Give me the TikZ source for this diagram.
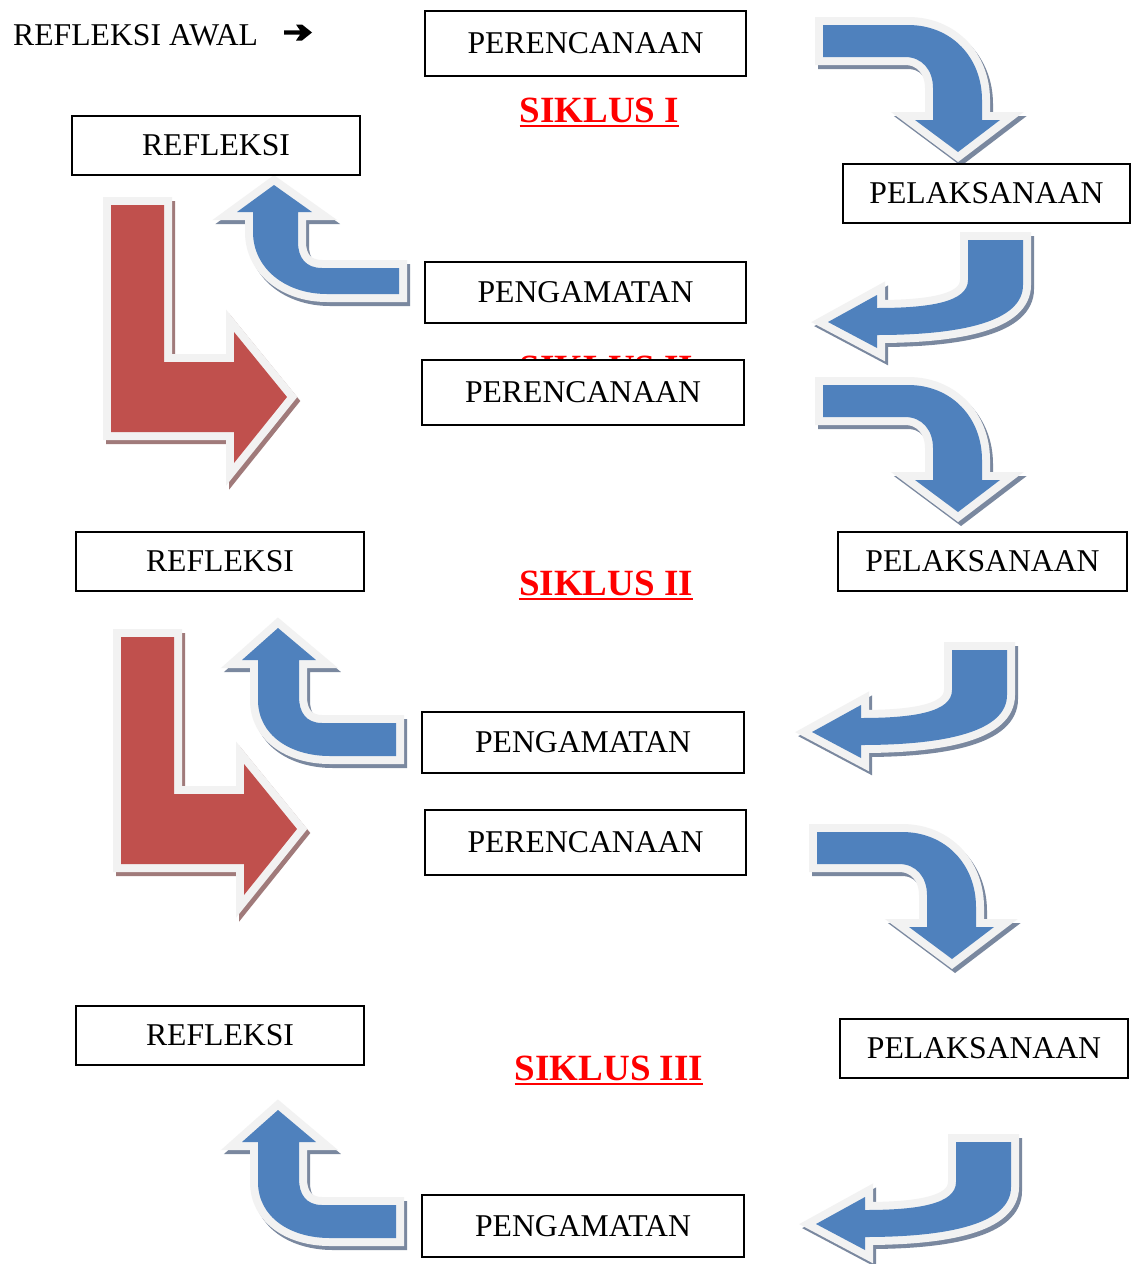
\documentclass[tikz,border=0pt]{standalone}
\usepackage{fontspec}
\setmainfont{Liberation Serif}
\definecolor{ablue}{HTML}{4F81BD}
\definecolor{ared}{HTML}{C0504D}
\definecolor{outl}{HTML}{F2F2F2}
\definecolor{bshadow}{HTML}{7A889F}
\definecolor{rshadow}{HTML}{A07A7A}
\definecolor{sred}{HTML}{FF0000}
\newcommand\fancyarr[3]{%
  \draw[#3, line width=16, line join=miter, shift={(3,4)}] #1;
  \draw[outl, line width=16, line join=miter] #1;
  \fill[#2] #1;}
\def\pathA{(823,25) -- (908,25) .. controls (952,25) and (982,58) .. (982,100) -- (982,120) -- (1000,120) -- (958,152) -- (915,120) -- (933,120) -- (933,88) .. controls (933,70) and (922,57) .. (905,57) -- (823,57) -- cycle}
\def\pathB{(968,240) -- (1023,240) -- (1023,285) .. controls (1023,322) and (960,335) .. (877,335) -- (877,348) -- (828,322) -- (877,295) -- (877,308) .. controls (930,308) and (968,302) .. (968,280) -- cycle}
\def\pathCa{(399,268) -- (322,268) .. controls (306,268) and (298,258) .. (298,242) -- (298,212) -- (312,212) -- (274,185) -- (237,212) -- (253,212) -- (253,232) .. controls (253,268) and (285,294) .. (327,294) -- (399,294) -- cycle}
\def\pathC{(396,723) -- (322,723) .. controls (306,723) and (299,712) .. (299,697) -- (299,660) -- (316,660) -- (278,628) -- (242,660) -- (258,660) -- (258,700) .. controls (258,735) and (290,756) .. (330,756) -- (396,756) -- cycle}
\def\pathL{(111,205) -- (164,205) -- (164,362) -- (234,362) -- (234,332) -- (287,397) -- (234,463) -- (234,432) -- (111,432) -- cycle}
\begin{document}
\begin{tikzpicture}[x=1pt,y=-1pt,
  txt/.style={font=\fontsize{31.7}{36}\selectfont, text=black},
  stagebox/.style={txt, draw=black, line width=1.6, fill=white, inner sep=0pt},
  siklus/.style={font=\fontsize{37}{42}\selectfont\bfseries, text=sred, inner sep=0pt, anchor=base}]
\useasboundingbox[fill=white] (0,0) rectangle (1139,1264);
% ---- big arrows ----
\fancyarr{\pathL}{ared}{rshadow}
\begin{scope}[shift={(10,432)}]\fancyarr{\pathL}{ared}{rshadow}\end{scope}
\fancyarr{\pathA}{ablue}{bshadow}
\begin{scope}[shift={(0,360)}]\fancyarr{\pathA}{ablue}{bshadow}\end{scope}
\begin{scope}[shift={(-6,807)}]\fancyarr{\pathA}{ablue}{bshadow}\end{scope}
\fancyarr{\pathB}{ablue}{bshadow}
\begin{scope}[shift={(-16,410)}]\fancyarr{\pathB}{ablue}{bshadow}\end{scope}
\begin{scope}[shift={(-12,902)}]\fancyarr{\pathB}{ablue}{bshadow}\end{scope}
\fancyarr{\pathCa}{ablue}{bshadow}
\fancyarr{\pathC}{ablue}{bshadow}
\begin{scope}[shift={(0,482)}]\fancyarr{\pathC}{ablue}{bshadow}\end{scope}
% ---- start label ----
\node[txt, anchor=base west, inner sep=0pt] (awal) at (13,45) {REFLEKSI AWAL};
\fill[black] (284,30.3) -- (300,30.3) -- (296,24.5) -- (302,24.5) -- (312,32.5) -- (302,40.5) -- (296,40.5) -- (300,34.7) -- (284,34.7) -- cycle;
% ---- cycle titles ----
\node[siklus] (s1) at (599.5,122) {SIKLUS I};
\draw[sred, line width=2.5] ([yshift=-4]s1.base west) -- ([yshift=-4]s1.base east);
\node[siklus] (s2h) at (606.5,380) {SIKLUS II};
\draw[sred, line width=2.5] ([yshift=-4]s2h.base west) -- ([yshift=-4]s2h.base east);
\node[siklus] (s2) at (606,595) {SIKLUS II};
\draw[sred, line width=2.5] ([yshift=-4]s2.base west) -- ([yshift=-4]s2.base east);
\node[siklus] (s3) at (609,1080) {SIKLUS III};
\draw[sred, line width=2.5] ([yshift=-4]s3.base west) -- ([yshift=-4]s3.base east);
% ---- boxes ----
\node[stagebox, minimum width=321, minimum height=65] (perenc1) at (585.5,43.5) {PERENCANAAN};
\node[stagebox, minimum width=288, minimum height=59] (refl1) at (216,145.5) {REFLEKSI};
\node[stagebox, minimum width=287, minimum height=59] (pelak1) at (986.5,193.5) {PELAKSANAAN};
\node[stagebox, minimum width=321, minimum height=61] (peng1) at (585.5,292.5) {PENGAMATAN};
\node[stagebox, minimum width=322, minimum height=65] (perenc2) at (583,392.5) {PERENCANAAN};
\node[stagebox, minimum width=288, minimum height=59] (refl2) at (220,561.5) {REFLEKSI};
\node[stagebox, minimum width=289, minimum height=59] (pelak2) at (982.5,561.5) {PELAKSANAAN};
\node[stagebox, minimum width=322, minimum height=61] (peng2) at (583,742.5) {PENGAMATAN};
\node[stagebox, minimum width=321, minimum height=65] (perenc3) at (585.5,842.5) {PERENCANAAN};
\node[stagebox, minimum width=288, minimum height=59] (refl3) at (220,1035.5) {REFLEKSI};
\node[stagebox, minimum width=288, minimum height=59] (pelak3) at (984,1048.5) {PELAKSANAAN};
\node[stagebox, minimum width=322, minimum height=62] (peng3) at (583,1226) {PENGAMATAN};
\end{tikzpicture}
\end{document}
